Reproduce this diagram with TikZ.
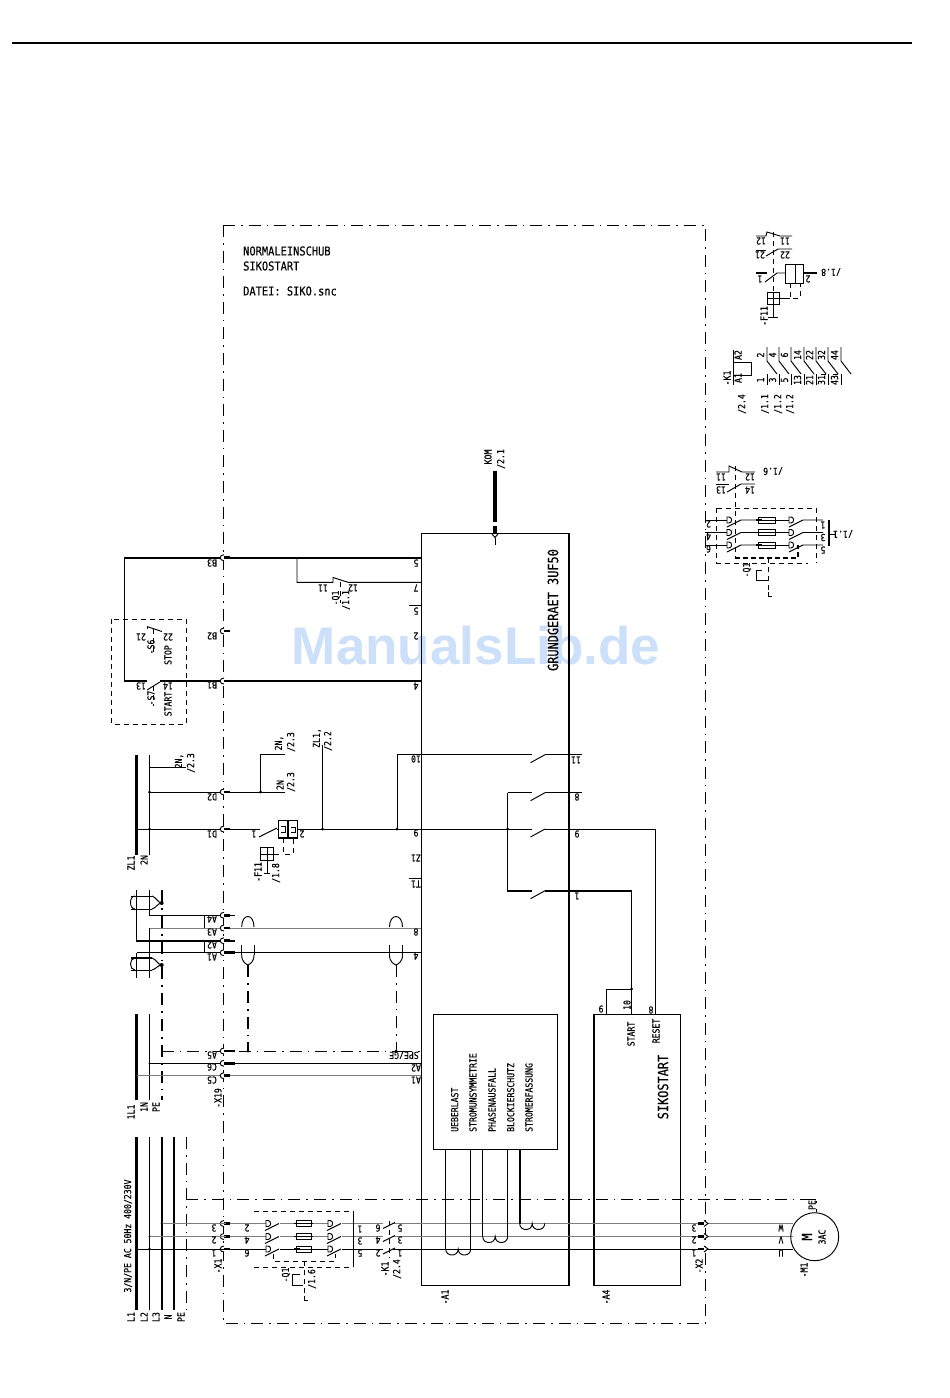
\documentclass[tikz,border=0pt]{standalone}
\usepackage{fontspec}
\newfontfamily\cadf[FakeStretch=0.85,FakeBold=0.3]{DejaVu Sans Mono}
\newfontfamily\wmf{Liberation Sans}
\usetikzlibrary{calc}
\definecolor{wm}{RGB}{204,224,250}
\definecolor{gl}{RGB}{125,125,125}
\newcounter{tn}
% rotated 90 label, upside-down label, horizontal label
\newcommand\lu[3]{\stepcounter{tn}\node[cad,rotate=90] (t\arabic{tn}) at (#1,#2) {#3};}
\newcommand\ld[3]{\stepcounter{tn}\node[cad,rotate=180] (t\arabic{tn}) at (#1,#2) {#3};}
\newcommand\lub[3]{\stepcounter{tn}\node[cad,rotate=90,anchor=west] (t\arabic{tn}) at (#1,#2) {#3};}
% terminals
\newcommand\term[2]{\fill[white] (224,#2-3) .. controls (219,#2-3) and (219,#2+3) .. (224,#2+3) -- cycle;
 \draw[ln] (224,#2-3) .. controls (219,#2-3) and (219,#2+3) .. (224,#2+3);
 \draw[line width=2.6pt] (223.5,#2) -- (#1,#2);}
\newcommand\termx[1]{\draw[line width=2.6pt] (698,#1) -- (704,#1); \fill[white] (704,#1-3) -- (708,#1) -- (704,#1+3) -- cycle; \draw[ln] (704,#1-3) -- (708,#1) -- (704,#1+3);}
\newcommand\dee[2]{\draw[ln,fill=white] (#1,#2-3) -- (#1+2,#2-3) .. controls (#1+5.5,#2-3) and (#1+5.5,#2+3) .. (#1+2,#2+3) -- (#1,#2+3) -- cycle;}
\newcommand\fuse[3]{\draw[ln] (#1-2,#3) -- (#2+2,#3); \draw[ln,fill=white] (#1,#3-3) rectangle (#2,#3+3); \draw[line width=1.6pt] (#1-2,#3) -- (#1+4,#3); \draw[ln] (#1+4,#3) -- (#2+2,#3);}
\newcommand\coil[3]{\draw[ln] (#1,#3) .. controls (#1,#3+8) and ({(#1+#2)/2},#3+8) .. ({(#1+#2)/2},#3) .. controls ({(#1+#2)/2},#3+8) and (#2,#3+8) .. (#2,#3);}
\tikzset{
 ln/.style={line width=.95pt,line cap=butt},
 hv/.style={line width=2.2pt},
 mid/.style={line width=1.6pt},
 gy/.style={line width=.95pt,draw=gl},
 dd/.style={line width=.95pt,dash pattern=on 12pt off 6pt on 1.6pt off 6pt},
 ddh/.style={line width=1.9pt,dash pattern=on 12pt off 6pt on 1.8pt off 6pt},
 das/.style={line width=.95pt,dash pattern=on 5pt off 4pt},
 dot/.style={circle,fill=black,inner sep=0pt,minimum size=3pt},
 cad/.style={inner sep=0pt,font=\cadf\fontsize{9.6}{10}\selectfont},
 big/.style={inner sep=0pt,font=\cadf\fontsize{14}{15}\selectfont},
 med/.style={inner sep=0pt,font=\cadf\fontsize{12.2}{13}\selectfont,anchor=west},
}
\begin{document}
\begin{tikzpicture}[x=1pt,y=-1pt]
\useasboundingbox (0,0) rectangle (950,1398);
\fill[white] (0,0) rectangle (950,1398);
\node[inner sep=0pt,text=wm,font=\wmf\bfseries\fontsize{53}{53}\selectfont] (wmark) at (476,646) {ManualsLib.de};
% top rule and frame
\draw[line width=1.8pt] (12,43) -- (912,43);
\draw[dd] (223,225) rectangle (705.5,1323);
\node[med] (h1) at (243,251) {NORMALEINSCHUB};
\node[med] (h2) at (243,266) {SIKOSTART};
\node[med] (h3) at (243,291) {DATEI: SIKO.snc};
% boxes
\draw[ln] (569,533) -- (421.5,533) -- (421.5,1285) -- (569,1285);
\draw[line width=2.6pt] (569,533) -- (569,1285.5);
\draw[ln] (594,1014) -- (680,1014) -- (680,1285) -- (594,1285);
\draw[line width=2.6pt] (594,1013.5) -- (594,1285.5);
\draw[ln] (433.5,1014) rectangle (557.5,1149.5);
\node[big,rotate=90] (g1) at (553,610) {GRUNDGERAET 3UF50};
\node[big,rotate=90] (g2) at (663,1087) {SIKOSTART};
\lu{631}{1034}{START}\lu{656}{1031}{RESET}
\ld{601}{1009}{9}\lu{627}{1005}{10}\ld{651}{1010}{8}
\lub{454.7}{1132}{UEBERLAST}\lub{473}{1132}{STROMUNSYMMETRIE}\lub{492}{1132}{PHASENAUSFALL}
\lub{510.7}{1132}{BLOCKIERSCHUTZ}\lub{529}{1132}{STROMERFASSUNG}
\lu{445}{1297}{-A1}\lu{606}{1297}{-A4}
% mains bus
\draw[hv] (136.5,1137) -- (136.5,1310);
\draw[ln] (149.5,1137) -- (149.5,1310);
\draw[hv] (161.7,1137) -- (161.7,1310);
\draw[hv] (174,1137) -- (174,1310);
\draw[dd] (186,1137) -- (186,1310);
\lu{131}{1317}{L1}\lu{144}{1317}{L2}\lu{156}{1317}{L3}\lu{168}{1317}{N}\lu{181}{1317}{PE}
\lu{128}{1236}{3/N/PE AC 50Hz 400/230V}
\draw[dd] (186,1199) -- (816,1199) -- (816,1212);
\draw[ln] (810,1199) -- (816,1199);
% three phase rows
\foreach \yy/\colr in {1223.5/gl,1236.5/gl,1249/black}{
  \draw[ln,draw=\colr] (226,\yy) -- (266,\yy);
  \draw[ln,draw=\colr] (280,\yy) -- (295,\yy);
  \draw[ln,draw=\colr] (311,\yy) -- (328,\yy);
  \draw[ln,draw=\colr] (342,\yy) -- (383,\yy);
  \draw[ln,draw=\colr] (393,\yy) -- (793,\yy);
  \term{230}{\yy}
  \dee{266}{\yy}\draw[ln] (265,\yy+7) -- (279,\yy);
  \fuse{296}{311}{\yy}
  \dee{328}{\yy}\draw[ln] (327,\yy+7) -- (341,\yy);
  \draw[ln] (383,\yy+5) -- (395,\yy-1);
  \termx{\yy}
}
\draw[ln] (136.5,1249) -- (226,1249);
\draw[ln,draw=gl] (149.5,1236.5) -- (226,1236.5);
\draw[ln,draw=gl] (161.7,1223.5) -- (226,1223.5);
\node[dot] (b1) at (136.5,1249) {};\node[dot] (b2) at (149.5,1249) {};
\node[dot,minimum size=2pt] (b3) at (149.5,1236.5) {};\node[dot,minimum size=2pt] (b4) at (161.7,1223.5) {};
\ld{214}{1228}{3}\ld{214}{1240}{2}\ld{214}{1253}{1}\lu{218}{1266}{-X1}
\ld{247}{1228}{2}\ld{247}{1240}{4}\ld{247}{1253}{6}
\ld{360}{1229}{1}\ld{360}{1241}{3}\ld{360}{1253}{5}
\ld{378}{1228}{6}\ld{378}{1240}{4}\ld{378}{1253}{2}
\ld{400}{1228}{5}\ld{400}{1240}{3}\ld{400}{1253}{1}
\lu{385}{1269}{-K1}\lu{397}{1269}{/2.4}
\draw[das] (389,1221) -- (389,1258);
% Q1 frame
\draw[das] (254,1211) -- (353,1211);
\draw[das] (254,1267) -- (353,1267);
\draw[ln] (353,1211) -- (353,1267);
\draw[das] (273,1254) -- (273,1261) -- (335,1261) -- (335,1254);
\draw[das] (304,1261) -- (304,1296);
\draw[ln] (292,1274) -- (300,1274);\draw[ln] (292,1274) -- (292,1285) -- (303,1285);
\draw[ln] (304,1296) -- (304,1300) -- (308,1300);
\lu{286}{1275}{-Q1}\lu{312}{1279}{/1.6}
% motor
\draw[ln] (814.7,1236.7) circle[radius=24pt];
\node[big,rotate=90] (m1) at (807,1237) {M};
\lu{822}{1237}{3AC}\lu{812}{1205}{PE}\lu{804}{1270}{-M1}
\ld{781}{1228}{W}\ld{781}{1240}{V}\ld{781}{1253}{U}
\ld{694}{1228}{3}\ld{694}{1240}{2}\ld{694}{1253}{1}\lu{699}{1266}{-X2}
% coils
\draw[ln] (445.7,1149.5) -- (445.7,1249);\draw[ln] (470.7,1149.5) -- (470.7,1249);\coil{445.7}{470.7}{1249}
\draw[ln] (482.7,1149.5) -- (482.7,1236.5);\draw[ln] (507.7,1149.5) -- (507.7,1236.5);\coil{482.7}{507.7}{1236.5}
\draw[line width=1.6pt] (519.7,1149.5) -- (519.7,1223.5);\coil{519.7}{544.7}{1223.5}
% control supply X19
\draw[hv] (136.5,1014) -- (136.5,1100);
\draw[ln] (149.5,1014) -- (149.5,1100);
\draw[ddh] (161.7,890) -- (161.7,1100);
\lu{131}{1112}{1L1}\lu{144}{1107}{1N}\lu{156}{1107}{PE}
\draw[dd] (161.7,1051) -- (400,1051);
\draw[dd] (400,1051) -- (421,1051);
\draw[ln] (149.5,1063.3) -- (421,1063.3);
\draw[gy] (136.5,1075.7) -- (421,1075.7);
\term{235}{1051}\term{235}{1063.3}\term{230}{1075.7}
\ld{212}{1055}{A5}\ld{212}{1067}{C6}\ld{212}{1080}{C5}\lu{218}{1098}{-X19}
\ld{404}{1055}{SPE/GE}\ld{416}{1068}{A2}\ld{416}{1080}{A1}
\node[dot] (d1) at (248,1051) {};\node[dot] (d2) at (396,1051) {};
\node[dot,minimum size=2pt] (d3) at (149.5,1063.3) {};
% shields
\draw[ln] (149.5,890) -- (149.5,915.3) -- (235,915.3);
\draw[gy] (149.5,928) -- (421,928);
\draw[ln] (149.5,928) -- (149.5,978);
\draw[mid] (136.5,890) -- (136.5,940.7) -- (235,940.7);
\draw[mid] (136.5,978) -- (136.5,952.7);
\draw[line width=1.3pt] (136.5,952.7) -- (421,952.7);
\term{230}{915.3}\term{230}{928}\term{230}{940.7}\term{235}{952.7}
\draw[ln] (131,896) -- (152,896);\draw[ln] (131,909) -- (152,909);
\draw[ln] (135,896) .. controls (129,896) and (129,909) .. (135,909);
\draw[ln] (152,896) .. controls (156,897) and (158,903) .. (161.7,903);
\draw[ln] (152,909) .. controls (156,908) and (158,903) .. (161.7,903);
\draw[mid] (131,958) -- (152,958);\draw[ln] (131,970) -- (152,970);
\draw[ln] (135,958) .. controls (129,958) and (129,970) .. (135,970);
\draw[ln] (152,958) .. controls (156,959) and (158,965) .. (161.7,965);
\draw[ln] (152,970) .. controls (156,969) and (158,965) .. (161.7,965);
\node[dot,minimum size=4pt] (s1) at (161.7,903) {};\node[dot,minimum size=4pt] (s2) at (161.7,965) {};
\draw[line width=.95pt] (204.7,915.3) -- (204.7,928);\draw[line width=.95pt] (204.7,940.7) -- (204.7,952.7);
\ld{212}{919}{A4}\ld{212}{932}{A3}\ld{212}{945}{A2}\ld{212}{957}{A1}
% cable shields in field
\draw[ln] (241.7,927) .. controls (241.7,913) and (254,913) .. (254,927);
\draw[ln] (241.7,955) .. controls (241.7,962) and (246,964) .. (248,965) .. controls (250,964) and (254,962) .. (254,955);
\draw[ln] (241.7,955) -- (241.7,945);\draw[ln] (254,955) -- (254,945);
\draw[ddh] (248,965) -- (248,1051);
\draw[ln] (389.5,927) .. controls (389.5,913) and (402.5,913) .. (402.5,927);
\draw[ln] (389.5,955) .. controls (389.5,962) and (394,964) .. (396,965) .. controls (398,964) and (402.5,962) .. (402.5,955);
\draw[ln] (389.5,955) -- (389.5,945);\draw[ln] (402.5,955) -- (402.5,945);
\draw[dd] (396,965) -- (396,1051);
\ld{416}{932}{8}\ld{416}{956}{4}
% supply bus 2
\draw[hv] (136.5,755) -- (136.5,855);
\draw[ln] (149.5,755) -- (149.5,855);
\draw[ln] (149.5,767.3) -- (186,767.3);
\lu{179}{761}{2N,}\lu{191}{763}{/2.3}
\lu{131}{863}{ZL1}\lu{144}{860}{2N}
\draw[ln] (149.5,792) -- (285,792);
\draw[ln] (260.7,792) -- (260.7,754.7) -- (285,754.7);
\node[dot] (e1) at (149.5,792) {};\node[dot] (e2) at (260.7,792) {};\node[dot] (e3) at (149.5,829) {};
\term{230}{792}
\ld{212}{797}{D2}\ld{212}{834}{D1}
\lu{280}{785}{2N}\lu{291}{782}{/2.3}\lu{279}{743}{2N,}\lu{291}{742}{/2.3}
\lu{317}{738}{ZL1,}\lu{328}{741}{/2.2}
% row 829 with F11
\draw[ln] (136.5,829) -- (260,829);
\term{230}{829}
\draw[ln] (259,837) -- (277,828);
\draw[ln] (277,829) -- (278.5,829);
\draw[line width=1.5pt] (278.3,820.7) rectangle (297.7,838);
\draw[line width=1.5pt] (288,820.7) -- (288,838);
\draw[ln] (281,826) -- (285,826) -- (285,832) -- (281,832);
\draw[ln] (291,827) -- (295,827) -- (295,832) -- (291,832);
\draw[ln] (298,829) -- (532,829);
\draw[ln] (545,829) -- (655.7,829);
\ld{254}{834}{1}\ld{302}{834}{2}
\draw[das] (283,838) -- (283,854) -- (293,854) -- (293,838);
\draw[das] (274,854) -- (283,854);
\draw[ln] (260.5,847.7) rectangle (273.7,860);
\draw[ln] (260.5,854) -- (273.7,854);\draw[ln] (267,847.7) -- (267,873);
\draw[ln] (264,873) -- (270,873);
\lu{258}{872}{-F11}\lu{276}{873}{/1.8}
\draw[ln] (322.5,745) -- (322.5,829);
\draw[ln] (397,754.7) -- (397,829);
\node[dot] (e4) at (322.5,829) {};\node[dot] (e5) at (397,829) {};\node[dot] (e6) at (507.7,829) {};
% output contacts of A1
\draw[ln] (397,754.7) -- (532,754.7);\draw[ln] (545,754.7) -- (582,754.7);
\draw[ln] (507.7,792.7) -- (532,792.7);\draw[ln] (545,792.7) -- (582,792.7);
\draw[ln] (507.7,792.7) -- (507.7,890.7);
\draw[hv] (507,890.7) -- (532,890.7);\draw[hv] (545,890.7) -- (632,890.7);
\foreach \yy in {754.7,792.7,829,890.7}{\draw[ln] (530.5,\yy+8) -- (545,\yy);}
\draw[ln] (631.7,890.7) -- (631.7,1014);
\draw[ln] (655.7,829) -- (655.7,1014);
\draw[ln] (606,1014) -- (606,989) -- (631.7,989);
\node[dot] (e7) at (631.7,989) {};
\ld{576}{760}{11}\ld{577}{797}{8}\ld{577}{834}{9}\ld{577}{896}{1}
\ld{416}{759}{10}\ld{416}{833}{9}\ld{416}{858}{Z1}\ld{416}{884}{T1}
\draw[ln] (409,878) -- (421,878);
% B rows
\draw[hv] (124.3,557.7) -- (421,557.7);
\draw[hv] (124.3,681) -- (421,681);
\draw[ln] (124.3,557.7) -- (124.3,681);
\term{230}{557.7}\term{230}{631}\term{230}{681}
\ld{212}{563}{B3}\ld{212}{636}{B2}\ld{212}{685}{B1}
\draw[ln] (297,557.7) -- (297,582.3) -- (333,582.3) -- (333,577.5) -- (348,582.3) -- (421,582.3);
\ld{323}{588}{11}\ld{353}{588}{12}\lu{336}{598}{-Q1}\lu{346}{600}{/1.1}
\draw[das] (340,582) -- (340,603);
\ld{416}{563}{5}\ld{416}{588}{7}\ld{416}{611}{5}\ld{416}{636}{2}\ld{416}{686}{4}
\draw[ln] (409,605.7) -- (421,605.7);
% S6/S7
\draw[das] (111.7,619) rectangle (186,724);
\draw[ln] (147,626.5) -- (162,631.5);\draw[ln] (147,625.5) -- (147,629);
\draw[das] (153,629) -- (153,655);
\ld{141}{637}{21}\ld{168}{637}{22}\lu{151}{647}{-S6}\lu{168}{655}{STOP}
\fill[white] (147,679) rectangle (160,683);
\draw[ln] (147,690) -- (160,682);
\draw[das] (153,686) -- (153,706);
\ld{141}{686}{13}\ld{168}{686}{14}\lu{151}{698}{-S7}\lu{168}{704}{START}
% KOM
\draw[line width=4pt] (495,471) -- (495,522);
\draw[line width=3.6pt] (495,526) -- (495,533);
\draw[ln,fill=white] (492,534) -- (495,537.5) -- (498,534);
\draw[ln] (495,537.5) -- (495,545);
\lu{488}{457}{KOM}\lu{501}{459}{/2.1}
% ---- right margin: F11
\draw[ln] (756,236) -- (766,236) -- (767,232) -- (780,236) -- (792,236);
\ld{761}{241}{12}\ld{785}{241}{11}
\draw[ln] (756,250) -- (766,250);\draw[ln] (766,256) -- (778,249) -- (792,249);
\ld{760}{255}{21}\ld{785}{255}{22}
\draw[das] (773,232) -- (773,292);
\draw[line width=1.8pt] (756,273) -- (767,273);
\draw[ln] (765,282) -- (777,273) -- (786,273);
\draw[ln] (785.7,264.3) rectangle (803,283);\draw[ln] (795,264.3) -- (795,283);
\draw[line width=1.5pt] (803,273) -- (817,273);
\ld{760}{279}{1}\ld{808}{279}{2}
\ld{831}{272}{/1.8}
\draw[ln] (767.3,292) rectangle (779,304);
\draw[ln] (767.3,298) -- (790,298);\draw[ln] (773,292) -- (773,317);
\draw[ln] (768,317) -- (778,317);
\draw[das] (790,283) -- (790,298) -- (800,298) -- (800,283);
\lu{764}{316}{-F11}
% K1
\draw[ln] (733,362) rectangle (751.7,375);
\draw[ln] (733,350) -- (733,385);
\lu{738}{355}{A2}\lu{738}{378}{A1}\lu{727}{378}{-K1}
\foreach \xx/\tp/\bt in {767/2/1,779/4/3,791/6/5,804/14/13,816/22/21,828/32/31,841/44/43}{
  \draw[ln] (\xx,347) -- (\xx,361) -- (\xx+10,374);
  \draw[ln] (\xx,374) -- (\xx,385);
  \lu{\xx-6.5}{355}{\tp}\lu{\xx-6.5}{380}{\bt}
}
\draw[ln] (821,374) -- (826,374) (833,374) -- (838,374);
\lu{742}{404}{/2.4}\lu{765}{404}{/1.1}\lu{778}{404}{/1.2}\lu{790}{404}{/1.2}
% Q1 contacts right
\draw[ln] (716,472) -- (729,472) -- (729,466) -- (742,472) -- (755,472);
\ld{721}{477}{11}\ld{750}{477}{12}
\ld{773}{471}{/1.6}
\draw[ln] (716,484) -- (729,484);\draw[ln] (727,492) -- (741,484) -- (755,484);
\ld{721}{490}{13}\ld{750}{490}{14}
\draw[das] (735,466) -- (735,558);
\foreach \yy/\lf/\rg in {520/2/1,532.5/4/3,545/6/5}{
  \draw[ln] (705,\yy) -- (729,\yy);
  \dee{727}{\yy}
  \draw[ln] (727,\yy+7) -- (741,\yy) -- (757,\yy);
  \fuse{758}{775}{\yy}
  \draw[ln] (775,\yy) -- (790,\yy);
  \dee{789}{\yy}
  \draw[ln] (789,\yy+7) -- (803,\yy) -- (823,\yy);
  \ld{708.5}{\yy+4}{\lf}\ld{823}{\yy+5}{\rg}
}
\draw[line width=1.6pt] (829,520) -- (829,546);
\draw[ln] (829,534) -- (835,534);
\ld{843}{534}{/1.1}
\draw[das] (716.7,508) -- (816,508);
\draw[das] (716.7,508) -- (716.7,563) -- (808,563);
\draw[das] (816,508) -- (816,563);
\draw[line width=1.5pt,dash pattern=on 5pt off 3pt] (735,558) -- (798,558) -- (798,545);
\draw[das] (768,558) -- (768,592);
\draw[ln] (756,570) -- (756,580) -- (768,580);\draw[ln] (756,570) -- (762,570);
\draw[ln] (768,592) -- (768,596) -- (772,596);
\lu{747}{570}{-Q1}
\end{tikzpicture}
\end{document}
